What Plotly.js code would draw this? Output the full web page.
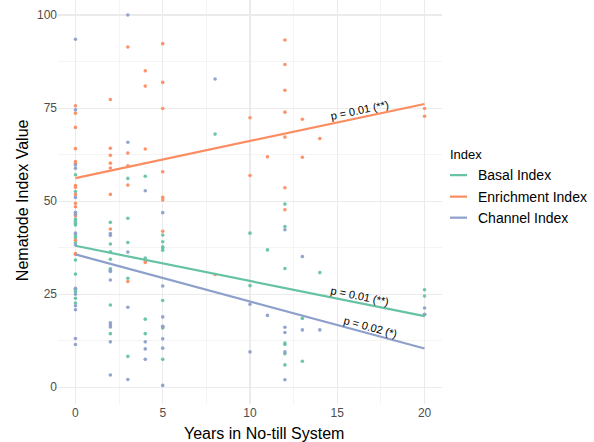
<!DOCTYPE html>
<html>
<head>
<meta charset="utf-8">
<script src="https://cdn.plot.ly/plotly-3.0.1.min.js"></script>
<style>html,body{margin:0;padding:0;background:#fff;}#chart{width:594px;height:442px;}</style>
</head>
<body>
<div id="chart"></div>
<script>
// ---- data ----
const seriesNames = ["Basal Index", "Enrichment Index", "Channel Index"];

const basalX = [0,0,0,0,0,0,0,0,0,0,0,0,0,0,0, 2,2,2,2,2,2,2, 3,3,3,3,3, 4,4,4,4, 5,5,5,5,5,5,5,5, 8, 10,10, 11, 12,12,12,12,12,12,12, 13,13, 14, 20,20,20];
const basalY = [57.1,52.6,45.2,44.6,44.0,43.6,40.9,40.2,38.9,34.2,30.4,26.3,25.7,23.9,22.6, 44.3,38.5,36.4,34.4,31.8,22.1,14.4, 56.1,45.4,38.9,29.3,8.3, 56.7,34.7,18.3,14.4, 40.9,39.1,37.7,37.4,36.8,23.3,15.9,7.5, 68.0, 41.4,27.3, 36.9, 49.2,43.2,31.9,11.9,11.5,9.0,6.0, 18.5,7.0, 30.8, 26.2,24.5,19.5];

const enrichX = [0,0,0,0,0,0,0,0,0,0,0,0,0,0,0, 2,2,2,2,2,2,2, 3,3,3,3,3, 4,4,4,4,4, 5,5,5,5,5,5,5, 8, 10,10, 11, 12,12,12,12,12,12,12, 13,13, 14, 20,20];
const enrichY = [75.6,73.6,69.8,64.1,60.6,60.1,54.2,53.7,51.8,49.4,48.5,46.1,39.5,35.9,35.7, 77.3,64.2,62.3,60.2,58.9,51.8,42.5, 91.4,62.9,59.5,54.3,28.4, 85.0,80.9,64.0,34.0,33.5, 92.3,81.9,74.9,57.9,51.0,50.3,41.9, 30.3, 72.4,56.9, 61.9, 93.3,86.7,79.8,73.9,67.2,53.6,47.7, 72.0,61.8, 66.8, 74.9,72.8];

const channelX = [0,0,0,0,0,0,0,0,0,0,0,0,0,0,0, 2,2,2,2,2,2,2,2,2,2, 3,3,3,3,3, 4,4,4,4, 5,5,5,5,5,5,5,5, 8, 10,10, 11, 12,12,12,12,12, 13,13, 14, 20,20];
const channelY = [93.5,74.5,59.7,58.8,51.0,47.0,46.5,41.4,38.2,26.6,25.0,21.9,20.8,13.1,11.5, 41.3,40.8,31.4,31.1,28.8,17.3,16.7,16.2,12.2,3.3, 100.0,65.8,36.3,21.5,2.1, 52.8,12.2,10.3,7.5, 46.9,27.2,18.9,16.4,16.2,13.0,10.5,0.5, 82.8, 22.3,9.5, 19.3, 42.3,16.1,14.7,9.5,2.0, 35.1,15.4, 15.4, 21.3,19.6];

// linear fits (values at x = 0 and x = 20)
const fitX = [0, 20];
const basalFit = [38.0, 19.1];
const enrichFit = [56.2, 76.1];
const channelFit = [35.7, 10.4];

const pLabels = ["p = 0.01 (**)", "p = 0.01 (**)", "p = 0.02 (*)"];

const xTicks = [0, 5, 10, 15, 20];
const yTicks = [0, 25, 50, 75, 100];

// ---- styling / layout ----
const colors = ["#66C2A5", "#FC8D62", "#8DA0CB"];
const font = "Liberation Sans, Arial, Helvetica, sans-serif";

const W = 594, H = 442;
const mL = 58, mR = 152, mT = 0, plotH = 403.7;
const mB = H - mT - plotH;
const xRange = [-1, 21], yRange = [-4.5, 104.03];
const pxPerX = (W - mL - mR) / (xRange[1] - xRange[0]);
const pxPerY = plotH / (yRange[1] - yRange[0]);

const ptsX = [basalX, enrichX, channelX];
const ptsY = [basalY, enrichY, channelY];
const fits = [basalFit, enrichFit, channelFit];

const traces = [];
for (let i = 0; i < 3; i++) {
  traces.push({
    type: "scatter", mode: "markers", x: ptsX[i], y: ptsY[i],
    name: seriesNames[i], showlegend: false, hoverinfo: "skip",
    marker: {color: colors[i], size: 3.6, opacity: 0.95}
  });
}
for (let i = 0; i < 3; i++) {
  traces.push({
    type: "scatter", mode: "lines", x: fitX, y: fits[i],
    name: seriesNames[i], showlegend: false, hoverinfo: "skip",
    line: {color: colors[i], width: 2.2}
  });
}

function angleOf(fit) {
  const slope = (fit[1] - fit[0]) / (fitX[1] - fitX[0]);
  return Math.atan(slope * pxPerY / pxPerX) * 180 / Math.PI;
}
function px2paperX(px) { return (px - mL) / (W - mL - mR); }
function px2paperY(py) { return (mT + plotH - py) / plotH; }

const annPos = [[16.3, 24.4], [16.3, 74.6], [16.9, 16.2]]; // basal, enrichment, channel label centres
const annotations = [];
// p-value labels
[0, 1, 2].forEach(i => {
  annotations.push({
    xref: "x", yref: "y", x: annPos[i][0], y: annPos[i][1],
    text: pLabels[i], showarrow: false, textangle: -angleOf(fits[i]),
    font: {family: font, size: 11, color: "#000"}, xanchor: "center", yanchor: "middle"
  });
});
// axis titles
annotations.push({xref: "paper", yref: "paper", x: px2paperX(264), y: px2paperY(433),
  text: "Years in No-till System", showarrow: false, xanchor: "center", yanchor: "middle",
  font: {family: font, size: 16, color: "#000"}});
annotations.push({xref: "paper", yref: "paper", x: px2paperX(22), y: px2paperY(200),
  text: "Nematode Index Value", showarrow: false, textangle: -90, xanchor: "center", yanchor: "middle",
  font: {family: font, size: 16, color: "#000"}});
// legend
annotations.push({xref: "paper", yref: "paper", x: px2paperX(448), y: px2paperY(154),
  text: "Index", showarrow: false, xanchor: "left", yanchor: "middle",
  font: {family: font, size: 13, color: "#000"}});
const shapes = [];
const legY = [175, 196.5, 217.5];
for (let i = 0; i < 3; i++) {
  shapes.push({type: "line", xref: "paper", yref: "paper",
    x0: px2paperX(450), x1: px2paperX(467), y0: px2paperY(legY[i]), y1: px2paperY(legY[i]),
    line: {color: colors[i], width: 2.2}});
  annotations.push({xref: "paper", yref: "paper", x: px2paperX(476), y: px2paperY(legY[i]),
    text: seriesNames[i], showarrow: false, xanchor: "left", yanchor: "middle",
    font: {family: font, size: 14, color: "#000"}});
}

const axisCommon = {
  showline: false, zeroline: false, ticks: "", showgrid: true,
  gridcolor: "#EBEBEB", gridwidth: 1.1,
  tickfont: {family: font, size: 12, color: "#4D4D4D"},
  fixedrange: true
};

const layout = {
  width: W, height: H,
  margin: {l: mL, r: mR, t: mT, b: mB, pad: 0},
  paper_bgcolor: "#fff", plot_bgcolor: "#fff",
  showlegend: false,
  xaxis: Object.assign({}, axisCommon, {
    range: xRange, tickvals: xTicks, ticktext: xTicks.map(String),
    minor: {tickvals: [2.5, 7.5, 12.5, 17.5], showgrid: true, gridcolor: "#EBEBEB", gridwidth: 0.55, ticks: ""}
  }),
  yaxis: Object.assign({}, axisCommon, {
    range: yRange, tickvals: yTicks, ticktext: yTicks.map(String),
    minor: {tickvals: [12.5, 37.5, 62.5, 87.5], showgrid: true, gridcolor: "#EBEBEB", gridwidth: 0.55, ticks: ""}
  }),
  annotations: annotations,
  shapes: shapes
};

Plotly.newPlot("chart", traces, layout, {staticPlot: true, displayModeBar: false});
</script>
</body>
</html>
